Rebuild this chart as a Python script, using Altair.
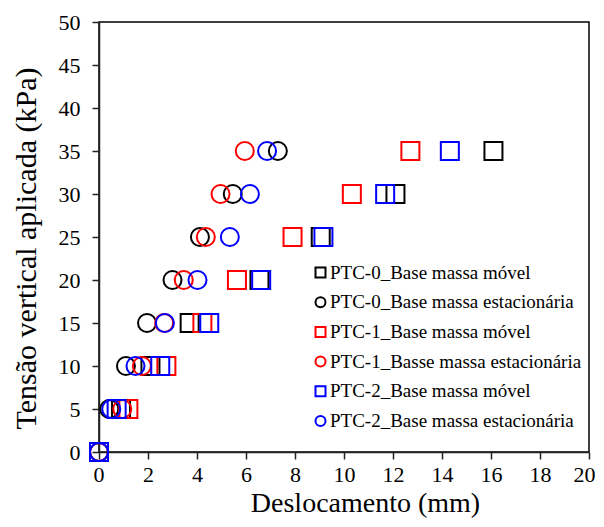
import altair as alt
import pandas as pd

tensao = [0, 5, 10, 15, 20, 25, 30, 35]

ptc0_movel = [0, 0.9, 2.1, 3.7, 6.55, 9.05, 12.1, 16.1]
ptc0_est = [0, 0.42, 1.1, 1.96, 3.0, 4.12, 5.46, 7.3]
ptc1_movel = [0, 1.2, 2.75, 4.22, 5.63, 7.9, 10.32, 12.71]
ptc1_est = [0, 0.95, 1.75, 2.66, 3.46, 4.36, 4.96, 5.95]
ptc2_movel = [0, 0.72, 2.5, 4.5, 6.62, 9.16, 11.68, 14.32]
ptc2_est = [0, 0.5, 1.49, 2.69, 4.02, 5.34, 6.16, 6.86]

series_names = [
    "PTC-0_Base massa móvel",
    "PTC-0_Base massa estacionária",
    "PTC-1_Base massa móvel",
    "PTC-1_Basse massa estacionária",
    "PTC-2_Base massa móvel",
    "PTC-2_Base massa estacionária",
]
series_values = [ptc0_movel, ptc0_est, ptc1_movel, ptc1_est, ptc2_movel, ptc2_est]
series_colors = ["#000000", "#000000", "#FF0000", "#FF0000", "#0000FF", "#0000FF"]
series_shapes = ["square", "circle", "square", "circle", "square", "circle"]

rows = []
for i, (name, vals) in enumerate(zip(series_names, series_values)):
    for t, d in zip(tensao, vals):
        rows.append({"serie": name, "ordem": i, "desloc": d, "tensao": t, "tam": 1})
df = pd.DataFrame(rows)

FONT = "Liberation Serif"

chart = alt.Chart(df).mark_point(
    filled=False, strokeWidth=2, opacity=1
).encode(
    x=alt.X("desloc:Q",
            scale=alt.Scale(domain=[0, 20], nice=False, zero=False),
            axis=alt.Axis(values=list(range(0, 21, 2)), title="Deslocamento (mm)",
                          titleFontSize=28, titleX=266, titleY=59,
                          titleBaseline="alphabetic", titleAlign="center",
                          labelFlush=True, labelFlushOffset=6)),
    y=alt.Y("tensao:Q",
            scale=alt.Scale(domain=[0, 50], nice=False),
            axis=alt.Axis(values=list(range(0, 51, 5)), title="Tensão vertical aplicada (kPa)",
                          titleFontSize=30, titleX=-73, titleY=226, titleAngle=270,
                          titleAlign="center", titleBaseline="middle", labelPadding=12)),
    color=alt.Color("serie:N",
                    scale=alt.Scale(domain=series_names, range=series_colors),
                    legend=alt.Legend(orient="none", legendX=212, legendY=241, title=None,
                                      labelFont=FONT, labelFontSize=19, labelColor="black",
                                      symbolSize=100, symbolStrokeWidth=2, rowPadding=9.7,
                                      padding=0, labelOffset=0, labelLimit=400)),
    shape=alt.Shape("serie:N",
                    scale=alt.Scale(domain=series_names, range=series_shapes)),
    size=alt.Size("tam:Q", scale=alt.Scale(domain=[0, 1], range=[324, 324]), legend=None),
    order=alt.Order("ordem:Q"),
).properties(
    width=490,
    height=430,
    autosize=alt.AutoSizeParams(type="none"),
    padding={"left": 91, "top": 14, "right": 7, "bottom": 67},
).configure_view(
    stroke="black", strokeWidth=1.5
).configure_axis(
    grid=False,
    domainColor="#222222",
    domainWidth=1.5,
    tickColor="#222222",
    tickSize=7,
    tickWidth=1.5,
    labelFont=FONT,
    labelFontSize=22,
    labelColor="black",
    labelPadding=5,
    labelOverlap=False,
    titleFont=FONT,
    titleFontWeight="normal",
    titleColor="black",
)

chart.save("out.html", embed_options={"renderer": "svg", "actions": False})
